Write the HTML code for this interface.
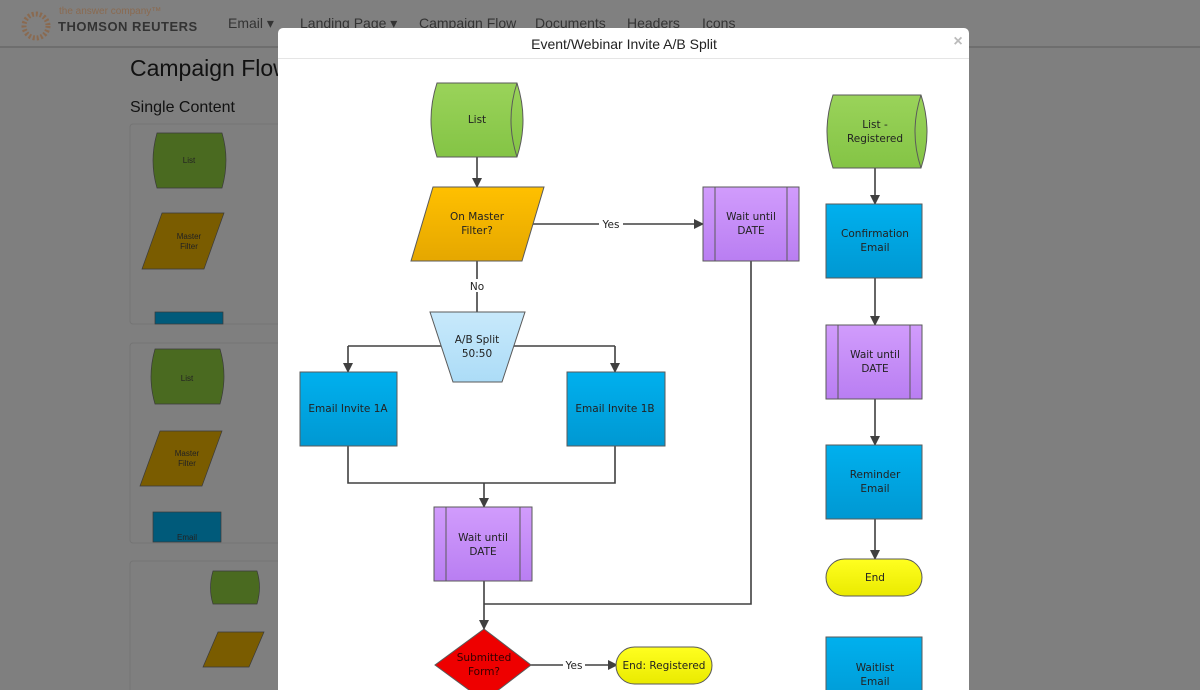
<!DOCTYPE html>
<html><head><meta charset="utf-8"><style>
html,body{margin:0;padding:0;width:1200px;height:690px;overflow:hidden;background:#7f7f7f;font-family:"Liberation Sans",sans-serif}
</style></head><body>
<svg width="1200" height="690" xmlns="http://www.w3.org/2000/svg" style="position:absolute;left:0;top:0">
<defs>
<linearGradient id="gG" x1="0" y1="0" x2="0" y2="1"><stop offset="0" stop-color="#9ad35a"/><stop offset="1" stop-color="#84c445"/></linearGradient>
<linearGradient id="gO" x1="0" y1="0" x2="0" y2="1"><stop offset="0" stop-color="#ffc000"/><stop offset="1" stop-color="#e5a700"/></linearGradient>
<linearGradient id="gP" x1="0" y1="0" x2="0" y2="1"><stop offset="0" stop-color="#d19cfc"/><stop offset="1" stop-color="#b97ef2"/></linearGradient>
<linearGradient id="gB" x1="0" y1="0" x2="0" y2="1"><stop offset="0" stop-color="#00b0ee"/><stop offset="1" stop-color="#0098d2"/></linearGradient>
<linearGradient id="gL" x1="0" y1="0" x2="0" y2="1"><stop offset="0" stop-color="#c8e9fb"/><stop offset="1" stop-color="#acdcf7"/></linearGradient>
<linearGradient id="gY" x1="0" y1="0" x2="0" y2="1"><stop offset="0" stop-color="#ffff20"/><stop offset="1" stop-color="#eaea00"/></linearGradient>
<marker id="ar" markerWidth="10" markerHeight="10" refX="9" refY="5" orient="auto" markerUnits="userSpaceOnUse"><path d="M0,0 L10,5 L0,10 z" fill="#404040"/></marker>
</defs>
<!-- navbar -->
<rect x="0" y="0" width="1200" height="46" fill="#808080"/>
<rect x="0" y="46" width="1200" height="2" fill="#6e6e6e"/>
<circle cx="36" cy="26" r="12" fill="none" stroke="#8a6a50" stroke-width="5" stroke-dasharray="2 2"/>
<text x="59" y="14" font-size="10" fill="#8a6a50">the answer company™</text>
<text x="58" y="31" font-size="13" font-weight="bold" fill="#333" letter-spacing="0.5">THOMSON REUTERS</text>
<g font-size="14" fill="#333"><text x="228" y="28">Email ▾</text><text x="300" y="28">Landing Page ▾</text><text x="419" y="28">Campaign Flow</text><text x="535" y="28">Documents</text><text x="627" y="28">Headers</text><text x="702" y="28">Icons</text></g>
<text x="130" y="76" font-size="23" fill="#111">Campaign Flow</text>
<text x="130" y="112" font-size="16" fill="#111">Single Content</text>
<!-- bg panels -->
<g fill="#7f7f7f" stroke="#747474"><rect x="130" y="124" width="160" height="200" rx="3"/><rect x="130" y="343" width="160" height="200" rx="3"/><rect x="130" y="561" width="160" height="140" rx="3"/></g>
<g stroke="#3a3a3a" stroke-width="0.7">
<path d="M157,133 h65 q8,27 0,55 h-65 q-8,-27 0,-55z" fill="#4a6a20"/>
<path d="M162,213 h62 l-20,56 h-62z" fill="#7a5c00"/>
<rect x="155" y="312" width="68" height="12" fill="#005a7a"/>
<path d="M155,349 h65 q8,27 0,55 h-65 q-8,-27 0,-55z" fill="#4a6a20"/>
<path d="M160,431 h62 l-20,55 h-62z" fill="#7a5c00"/>
<rect x="153" y="512" width="68" height="30" fill="#005a7a"/>
<path d="M213,571 h44 q5,16 0,33 h-44 q-5,-16 0,-33z" fill="#4a6a20"/>
<path d="M218,632 h46 l-15,35 h-46z" fill="#7a5c00"/>
</g>
<g font-size="8" fill="#222" text-anchor="middle"><text x="189" y="163">List</text><text x="189" y="239">Master</text><text x="189" y="249">Filter</text><text x="187" y="381">List</text><text x="187" y="456">Master</text><text x="187" y="466">Filter</text><text x="187" y="540">Email</text></g>
<!-- modal -->
<rect x="278" y="28" width="691" height="670" rx="5" fill="#fff"/>
<line x1="278" y1="58.5" x2="969" y2="58.5" stroke="#e5e5e5"/>
<text x="624" y="49" font-size="14" fill="#222" text-anchor="middle">Event/Webinar Invite A/B Split</text>
<text x="958" y="46" font-size="16" fill="#bbb" text-anchor="middle" font-weight="bold">×</text>
<!-- connectors -->
<g stroke="#404040" stroke-width="1.6" fill="none">
<line x1="477" y1="157" x2="477" y2="187" marker-end="url(#ar)"/>
<line x1="525" y1="224" x2="703" y2="224" marker-end="url(#ar)"/>
<line x1="477" y1="261" x2="477" y2="312"/>
<path d="M348,346 H615"/>
<line x1="348" y1="346" x2="348" y2="372" marker-end="url(#ar)"/>
<line x1="615" y1="346" x2="615" y2="372" marker-end="url(#ar)"/>
<path d="M348,446 V483 H615 V446"/>
<line x1="484" y1="483" x2="484" y2="507" marker-end="url(#ar)"/>
<path d="M751,261 V604 H484"/>
<line x1="484" y1="581" x2="484" y2="629" marker-end="url(#ar)"/>
<line x1="531" y1="665" x2="617" y2="665" marker-end="url(#ar)"/>
<line x1="875" y1="168" x2="875" y2="204" marker-end="url(#ar)"/>
<line x1="875" y1="278" x2="875" y2="325" marker-end="url(#ar)"/>
<line x1="875" y1="399" x2="875" y2="445" marker-end="url(#ar)"/>
<line x1="875" y1="519" x2="875" y2="559" marker-end="url(#ar)"/>
</g>
<g font-family="'DejaVu Sans',sans-serif" font-size="10.5" fill="#222" text-anchor="middle">
<rect x="599" y="217" width="24" height="13" fill="#fff"/><text x="611" y="228">Yes</text>
<rect x="468" y="279" width="18" height="13" fill="#fff"/><text x="477" y="290">No</text>
<rect x="563" y="658" width="22" height="13" fill="#fff"/><text x="574" y="669">Yes</text>
</g>
<!-- shapes -->
<g stroke="#5a5a5a" stroke-width="1">
<path d="M437,83 h80 q12,37 0,74 h-80 q-12,-37 0,-74z" fill="url(#gG)"/>
<path d="M517,83 q-12,37 0,74" fill="none"/>
<path d="M433,187 h111 l-22,74 h-111z" fill="url(#gO)"/>
<rect x="703" y="187" width="96" height="74" fill="url(#gP)"/>
<line x1="715" y1="187" x2="715" y2="261"/><line x1="787" y1="187" x2="787" y2="261"/>
<path d="M430,312 h95 l-23,70 h-49z" fill="url(#gL)"/>
<rect x="300" y="372" width="97" height="74" fill="url(#gB)"/>
<rect x="567" y="372" width="98" height="74" fill="url(#gB)"/>
<rect x="434" y="507" width="98" height="74" fill="url(#gP)"/>
<line x1="446" y1="507" x2="446" y2="581"/><line x1="520" y1="507" x2="520" y2="581"/>
<path d="M484,629 L531,665 L484,701 L435,665z" fill="#ee0000"/>
<rect x="616" y="647" width="96" height="37" rx="18.5" fill="url(#gY)"/>
<path d="M833,95 h88 q12,37 0,73 h-88 q-12,-36 0,-73z" fill="url(#gG)"/>
<path d="M921,95 q-12,37 0,73" fill="none"/>
<rect x="826" y="204" width="96" height="74" fill="url(#gB)"/>
<rect x="826" y="325" width="96" height="74" fill="url(#gP)"/>
<line x1="838" y1="325" x2="838" y2="399"/><line x1="910" y1="325" x2="910" y2="399"/>
<rect x="826" y="445" width="96" height="74" fill="url(#gB)"/>
<rect x="826" y="559" width="96" height="37" rx="18.5" fill="url(#gY)"/>
<rect x="826" y="637" width="96" height="74" fill="url(#gB)"/>
</g>
<g font-family="'DejaVu Sans',sans-serif" font-size="10.5" fill="#222" text-anchor="middle">
<text x="477" y="123">List</text>
<text x="477" y="220">On Master</text><text x="477" y="234">Filter?</text>
<text x="751" y="220">Wait until</text><text x="751" y="234">DATE</text>
<text x="477" y="343">A/B Split</text><text x="477" y="357">50:50</text>
<text x="348" y="412">Email Invite 1A</text>
<text x="615" y="412">Email Invite 1B</text>
<text x="483" y="541">Wait until</text><text x="483" y="555">DATE</text>
<text x="484" y="661" fill="#300">Submitted</text><text x="484" y="675" fill="#300">Form?</text>
<text x="664" y="669">End: Registered</text>
<text x="875" y="128">List -</text><text x="875" y="142">Registered</text>
<text x="875" y="237">Confirmation</text><text x="875" y="251">Email</text>
<text x="875" y="358">Wait until</text><text x="875" y="372">DATE</text>
<text x="875" y="478">Reminder</text><text x="875" y="492">Email</text>
<text x="875" y="581">End</text>
<text x="875" y="671">Waitlist</text><text x="875" y="685">Email</text>
</g>
</svg>
</body></html>
